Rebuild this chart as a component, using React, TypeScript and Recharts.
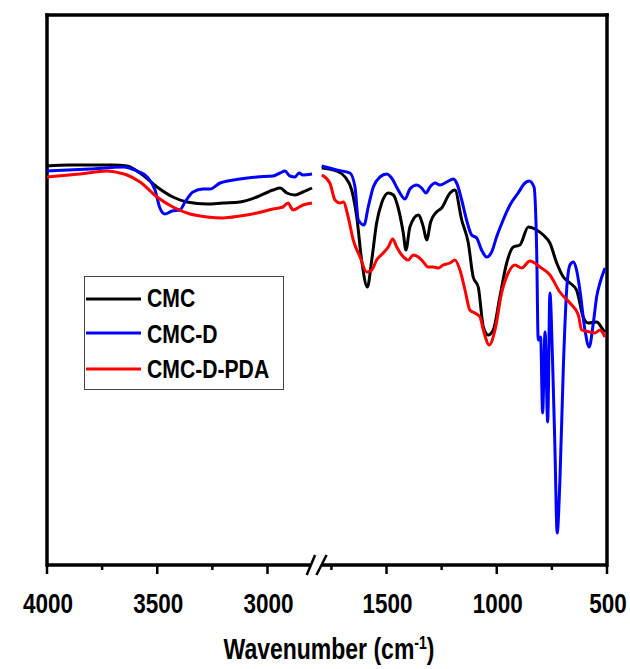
import React from 'react';
import { LineChart, Line, XAxis, YAxis, ReferenceLine, Legend } from 'recharts';

// ---- Data (wavenumber in cm-1, transmittance in arbitrary %) ----
const cmcWn = [
  4000, 3900, 3819, 3700, 3637, 3578, 3501, 3429, 3365, 3274, 3202, 3125, 3048, 2975, 2943, 2912, 2875, 2839, 2798,
  1794, 1726, 1688, 1658, 1635, 1613, 1587, 1567, 1545, 1522, 1492, 1469, 1447, 1424, 1412, 1394, 1356, 1333, 1318, 1300,
  1273, 1250, 1212, 1190, 1159, 1129, 1107, 1084, 1061, 1039, 1016, 986, 955, 925, 895, 857, 819, 789, 759, 728,
  698, 668, 638, 608, 585, 547, 517, 509,
];
const cmcT = [
  79.8, 80.0, 80.0, 80.0, 79.8, 78.4, 75.6, 73.6, 72.6, 72.2, 72.4, 72.6, 73.6, 75.0, 75.4, 74.4, 74.0, 74.6, 75.4,
  79.4, 78.8, 77.6, 75.0, 69.6, 61.0, 55.6, 61.0, 68.4, 72.4, 74.4, 74.0, 71.4, 66.4, 63.0, 67.6, 70.0, 67.6, 65.0, 68.6,
  70.6, 71.4, 74.4, 75.0, 69.0, 64.4, 57.6, 55.6, 47.6, 46.0, 47.0, 53.6, 60.4, 63.6, 64.0, 67.6, 67.0, 66.0, 64.4, 60.4,
  57.6, 56.4, 55.0, 49.6, 48.4, 48.6, 47.0, 46.6,
];

const cmcDWn = [
  4000, 3805, 3655, 3592, 3546, 3510, 3488, 3465, 3433, 3397, 3374, 3338, 3293, 3261, 3215, 3125, 3048, 2975, 2943, 2921,
  2898, 2875, 2857, 2839, 2798,
  1794, 1726, 1666, 1643, 1628, 1602, 1583, 1560, 1530, 1499, 1477, 1447, 1416, 1394, 1363, 1341, 1321, 1303, 1280, 1258,
  1227, 1197, 1182, 1159, 1137, 1114, 1091, 1069, 1046, 1023, 1001, 971, 940, 903, 872, 853, 831, 819, 812, 801,
  792, 781, 769, 759, 747, 736, 726, 714, 698, 683, 668, 653, 638, 623, 600, 581, 562, 547, 532, 509,
];
const cmcDT = [
  78.8, 79.2, 79.6, 78.8, 77.6, 75.0, 71.4, 70.2, 70.8, 71.0, 72.6, 74.6, 75.2, 75.2, 76.4, 77.2, 77.6, 77.8, 78.4, 78.8,
  77.8, 77.6, 78.4, 78.0, 78.2,
  79.8, 79.0, 78.4, 75.6, 69.0, 68.0, 71.6, 75.6, 77.6, 78.2, 77.4, 75.0, 73.2, 75.2, 76.0, 75.4, 74.4, 75.6, 76.4, 76.0,
  76.6, 77.2, 76.4, 73.0, 69.0, 66.0, 65.4, 63.0, 61.6, 62.6, 65.6, 69.0, 72.0, 74.4, 76.4, 76.8, 75.6, 63.0, 45.0, 45.6,
  30.4, 46.6, 28.6, 54.4, 41.0, 23.0, 6.4, 16.4, 39.6, 55.0, 60.0, 60.6, 59.0, 55.0, 47.0, 43.6, 48.4, 53.6, 56.4, 59.4,
];

const cmcDPdaWn = [
  4000, 3850, 3728, 3669, 3637, 3578, 3501, 3429, 3351, 3274, 3202, 3125, 3048, 2975, 2930, 2907, 2884, 2839, 2798,
  1794, 1757, 1734, 1711, 1696, 1674, 1651, 1620, 1590, 1567, 1545, 1515, 1492, 1472, 1454, 1431, 1401, 1379, 1356, 1333,
  1311, 1288, 1265, 1243, 1212, 1190, 1167, 1144, 1122, 1099, 1076, 1061, 1034, 1008, 978, 948, 918, 887, 850, 804,
  759, 714, 668, 630, 615, 577, 555, 532, 509,
];
const cmcDPdaT = [
  77.6, 78.2, 78.8, 78.4, 78.0, 76.6, 73.6, 71.6, 70.2, 69.6, 69.4, 69.8, 70.4, 71.2, 71.6, 72.4, 71.0, 72.0, 72.4,
  78.0, 76.4, 73.0, 72.4, 72.6, 69.6, 65.0, 61.6, 58.6, 59.0, 61.0, 62.4, 63.6, 65.2, 63.6, 62.0, 61.0, 62.0, 61.6, 60.6,
  59.6, 59.6, 59.4, 60.0, 60.4, 61.0, 59.0, 55.0, 51.0, 50.4, 49.6, 47.0, 44.0, 47.0, 54.4, 58.4, 60.0, 59.4, 60.8, 59.6,
  58.0, 54.6, 52.4, 50.0, 47.0, 46.6, 46.4, 47.0, 45.6,
];

const seriesNames = ['CMC', 'CMC-D', 'CMC-D-PDA'];
const seriesColors = ['#000000', '#0000ff', '#ff0000'];

const majorTicks = [4000, 3500, 3000, 1500, 1000, 500];
const minorTicks = [3750, 3250, 1750, 1250, 750];

// ---- Broken axis mapping (left segment 4000-2780, right segment 1800-500) ----
const SPLIT = 2000;
const toPos = (wn: number) => (wn >= SPLIT ? 4000 - wn : 3040 - wn);
const posToWn = (p: number) => (p < 1225 ? 4000 - p : 3040 - p);
const BREAK_POS = 1225;
const X_MAX = toPos(500);

function buildSeries(wn: number[], t: number[]) {
  const out: { pos: number; v: number | null }[] = [];
  const n = Math.min(wn.length, t.length);
  for (let i = 0; i < n; i++) {
    if (i > 0 && wn[i - 1] >= SPLIT && wn[i] < SPLIT) out.push({ pos: BREAK_POS, v: null });
    out.push({ pos: toPos(wn[i]), v: t[i] });
  }
  return out;
}

const seriesData = [buildSeries(cmcWn, cmcT), buildSeries(cmcDWn, cmcDT), buildSeries(cmcDPdaWn, cmcDPdaT)];
const majorPos = new Set(majorTicks.map(toPos));
const allTicks = [...majorTicks, ...minorTicks].map(toPos).sort((a, b) => a - b);

const FONT = '"Liberation Sans", Arial, Helvetica, sans-serif';

function AxisTick(props: any) {
  const { x, y, payload } = props;
  const major = majorPos.has(payload.value);
  return (
    <g>
      <line x1={x} x2={x} y1={y} y2={y + (major ? 9 : 5)} stroke="#000" strokeWidth={2.5} />
      {major && (
        <text
          transform={`translate(${x + 1},${y + 48}) scale(1,1.25)`}
          textAnchor="middle"
          fontFamily={FONT}
          fontWeight="bold"
          fontSize={22.5}
          fill="#000"
        >
          {posToWn(payload.value)}
        </text>
      )}
    </g>
  );
}

function XTitle(props: any) {
  const vb = props.viewBox || { x: 47, y: 565, width: 560, height: 30 };
  const cx = vb.x + vb.width / 2 + 2;
  return (
    <text
      transform={`translate(${cx},659) scale(1,1.25)`}
      textAnchor="middle"
      fontFamily={FONT}
      fontWeight="bold"
      fontSize={23}
      fill="#000"
    >
      Wavenumber (cm
      <tspan dy={-8} fontSize={14}>-1</tspan>
      <tspan dy={8}>)</tspan>
    </text>
  );
}

function YTitle() {
  return (
    <text
      transform="translate(31,274) scale(1,1.25) rotate(-90)"
      textAnchor="middle"
      fontFamily={FONT}
      fontWeight="bold"
      fontSize={23}
      fill="#000"
    >
      Transmittance (%)
    </text>
  );
}

function LegendBox() {
  const rows = [23, 57, 93];
  const base = [31, 67, 102];
  return (
    <svg width={200} height={114} style={{ display: 'block' }}>
      <rect x={0.5} y={0.5} width={199} height={113} fill="#fff" stroke="#444" strokeWidth={1} />
      {seriesNames.map((name, i) => (
        <g key={name}>
          <line x1={2} x2={57} y1={rows[i]} y2={rows[i]} stroke={seriesColors[i]} strokeWidth={3} />
          <text
            transform={`translate(63,${base[i]}) scale(0.92,1.15)`}
            fontFamily={FONT}
            fontWeight="bold"
            fontSize={23}
            fill="#000"
          >
            {name}
          </text>
        </g>
      ))}
    </svg>
  );
}

export default function App() {
  const frame = { stroke: '#000', strokeWidth: 3.5, strokeLinecap: 'square' as const };
  return (
    <div style={{ position: 'absolute', left: 0, top: 0, width: 630, height: 669, background: '#fff' }}>
      <LineChart width={630} height={669} margin={{ top: 15, right: 23, bottom: 74, left: 47 }}>
        <XAxis
          dataKey="pos"
          type="number"
          domain={[0, X_MAX]}
          ticks={allTicks}
          interval={0}
          allowDuplicatedCategory={false}
          axisLine={false}
          tickLine={false}
          tickSize={0}
          tickMargin={0}
          height={30}
          tick={(p: any) => <AxisTick {...p} />}
          label={{ content: (p: any) => <XTitle {...p} /> }}
        />
        <YAxis
          type="number"
          domain={[0, 110]}
          width={0}
          tick={false}
          axisLine={false}
          tickLine={false}
          label={{ content: () => <YTitle /> }}
        />
        <ReferenceLine x={0} {...frame} ifOverflow="visible" />
        <ReferenceLine x={X_MAX} {...frame} ifOverflow="visible" />
        <ReferenceLine y={110} {...frame} ifOverflow="visible" />
        <ReferenceLine segment={[{ x: 0, y: 0 }, { x: 1197, y: 0 }]} {...frame} strokeLinecap="butt" ifOverflow="visible" />
        <ReferenceLine segment={[{ x: 1247, y: 0 }, { x: X_MAX, y: 0 }]} {...frame} strokeLinecap="butt" ifOverflow="visible" />
        <ReferenceLine segment={[{ x: 1178, y: -2 }, { x: 1216, y: 2 }]} ifOverflow="visible" stroke="#000" strokeWidth={2.5} />
        <ReferenceLine segment={[{ x: 1222, y: -2 }, { x: 1268, y: 2 }]} ifOverflow="visible" stroke="#000" strokeWidth={2.5} />
        {seriesData.map((d, i) => (
          <Line
            key={seriesNames[i]}
            data={d}
            dataKey="v"
            name={seriesNames[i]}
            type="monotone"
            stroke={seriesColors[i]}
            strokeWidth={3}
            dot={false}
            activeDot={false}
            connectNulls={false}
            isAnimationActive={false}
          />
        ))}
        <Legend
          layout="vertical"
          align="center"
          verticalAlign="middle"
          wrapperStyle={{ left: 84, top: 276, width: 200, height: 114 }}
          content={() => <LegendBox />}
        />
      </LineChart>
    </div>
  );
}
